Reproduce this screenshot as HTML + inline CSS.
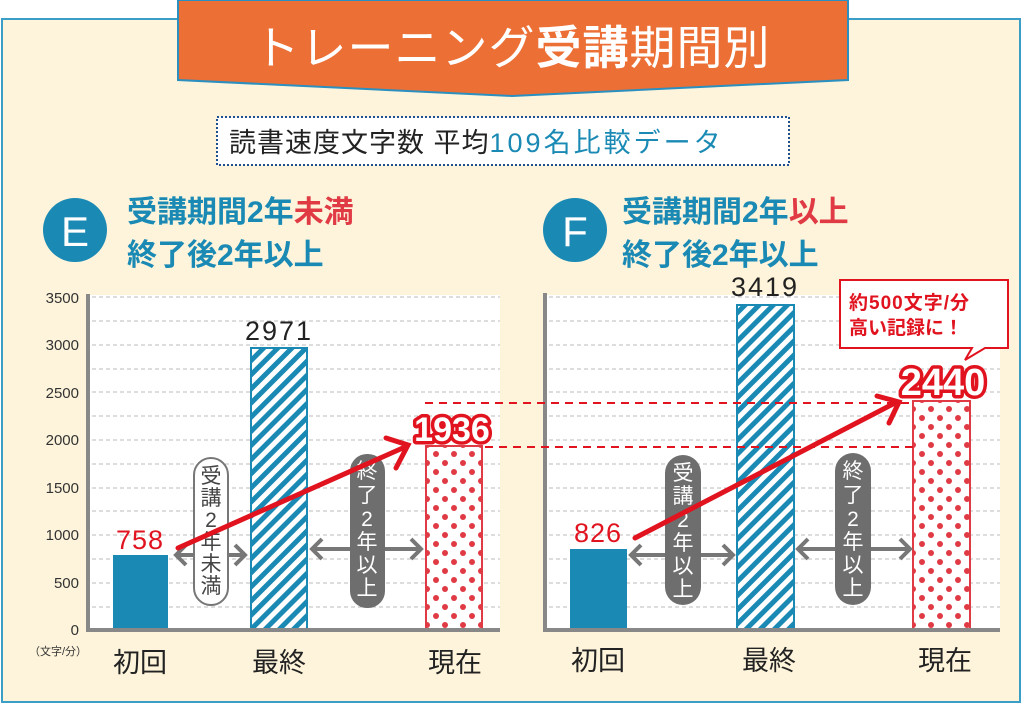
<!DOCTYPE html>
<html><head><meta charset="utf-8"><style>
html,body{margin:0;padding:0;background:#fff;}
svg{display:block;font-family:"Liberation Sans","Noto Sans CJK JP",sans-serif;}
</style></head><body>
<svg width="1022" height="704" viewBox="0 0 1022 704" xmlns="http://www.w3.org/2000/svg">
<defs>
<pattern id="st" width="10" height="10" patternUnits="userSpaceOnUse" patternTransform="rotate(45)">
<rect width="10" height="10" fill="#fff"/><rect width="5" height="10" fill="#1a8ab5"/>
</pattern>
<pattern id="dt" width="18" height="18" patternUnits="userSpaceOnUse">
<rect width="18" height="18" fill="#fff"/>
<circle cx="4" cy="4" r="3" fill="#e03a45"/><circle cx="13" cy="13" r="3" fill="#e03a45"/>
</pattern>
</defs>
<rect x="0" y="0" width="1022" height="704" fill="#fff"/>
<rect x="2" y="19" width="1018" height="683" fill="#fdf4db" stroke="#3a9ec7" stroke-width="2"/>
<polygon points="178,0 848,0 848,80 512,96 178,80" fill="#ec6f35" stroke="#2b8fbf" stroke-width="2"/>
<text x="512" y="64" font-size="46" fill="#fff" text-anchor="middle" letter-spacing="1">トレーニング<tspan font-weight="bold">受講</tspan>期間別</text>
<rect x="217" y="117" width="572" height="48" fill="#fff" stroke="#1f4f93" stroke-width="2" stroke-dasharray="2,2"/>
<text x="229" y="152" font-size="27" fill="#222" letter-spacing="1">読書速度文字数 平均<tspan fill="#1a8ab5" letter-spacing="3">109名比較データ</tspan></text>
<circle cx="75" cy="230" r="32" fill="#1a8ab5"/>
<text x="75" y="246" font-size="42" fill="#fff" text-anchor="middle">E</text>
<text x="127" y="222" font-size="30" font-weight="bold" fill="#1a8ab5">受講期間2年<tspan fill="#e03a45">未満</tspan></text>
<text x="127" y="265" font-size="30" font-weight="bold" fill="#1a8ab5">終了後2年以上</text>
<circle cx="575" cy="230" r="32" fill="#1a8ab5"/>
<text x="575" y="246" font-size="42" fill="#fff" text-anchor="middle">F</text>
<text x="622" y="222" font-size="30" font-weight="bold" fill="#1a8ab5">受講期間2年<tspan fill="#e03a45">以上</tspan></text>
<text x="622" y="265" font-size="30" font-weight="bold" fill="#1a8ab5">終了後2年以上</text>

<rect x="90" y="295" width="410" height="335" fill="#fff"/>
<g stroke="#bbb" stroke-width="1" stroke-dasharray="4,3">
<line x1="92" x2="500" y1="297" y2="297"/><line x1="92" x2="500" y1="321" y2="321"/><line x1="92" x2="500" y1="345" y2="345"/><line x1="92" x2="500" y1="369" y2="369"/><line x1="92" x2="500" y1="392" y2="392"/><line x1="92" x2="500" y1="416" y2="416"/><line x1="92" x2="500" y1="440" y2="440"/><line x1="92" x2="500" y1="464" y2="464"/><line x1="92" x2="500" y1="488" y2="488"/><line x1="92" x2="500" y1="511" y2="511"/><line x1="92" x2="500" y1="535" y2="535"/><line x1="92" x2="500" y1="559" y2="559"/><line x1="92" x2="500" y1="583" y2="583"/><line x1="92" x2="500" y1="607" y2="607"/>
</g>
<g font-size="15" fill="#333" text-anchor="end">
<text x="79" y="303">3500</text><text x="79" y="350">3000</text><text x="79" y="398">2500</text><text x="79" y="445">2000</text><text x="79" y="493">1500</text><text x="79" y="540">1000</text><text x="79" y="588">500</text><text x="79" y="635">0</text>
</g>
<text x="58" y="655" font-size="11" fill="#333" text-anchor="middle">（文字/分）</text>
<rect x="113" y="555" width="55" height="75" fill="#1a8ab5"/>
<rect x="251" y="348" width="56" height="282" fill="url(#st)" stroke="#1a8ab5" stroke-width="2"/>
<rect x="426" y="446" width="56" height="184" fill="url(#dt)" stroke="#e03a45" stroke-width="2"/>
<line x1="88" y1="294" x2="88" y2="632" stroke="#888" stroke-width="4"/>
<line x1="86" y1="630" x2="500" y2="630" stroke="#888" stroke-width="4"/>
<text x="140" y="549" font-size="27" fill="#e0131f" text-anchor="middle" letter-spacing="1">758</text>
<text x="279" y="340" font-size="27" fill="#222" text-anchor="middle" letter-spacing="2">2971</text>
<g font-size="27" fill="#222" text-anchor="middle"><text x="140" y="672">初回</text><text x="279" y="672">最終</text><text x="455" y="672">現在</text></g>

<rect x="547" y="295" width="453" height="335" fill="#fff"/>
<g stroke="#bbb" stroke-width="1" stroke-dasharray="4,3">
<line x1="549" x2="1000" y1="297" y2="297"/><line x1="549" x2="1000" y1="321" y2="321"/><line x1="549" x2="1000" y1="345" y2="345"/><line x1="549" x2="1000" y1="369" y2="369"/><line x1="549" x2="1000" y1="392" y2="392"/><line x1="549" x2="1000" y1="416" y2="416"/><line x1="549" x2="1000" y1="440" y2="440"/><line x1="549" x2="1000" y1="464" y2="464"/><line x1="549" x2="1000" y1="488" y2="488"/><line x1="549" x2="1000" y1="511" y2="511"/><line x1="549" x2="1000" y1="535" y2="535"/><line x1="549" x2="1000" y1="559" y2="559"/><line x1="549" x2="1000" y1="583" y2="583"/><line x1="549" x2="1000" y1="607" y2="607"/>
</g>
<rect x="570" y="549" width="57" height="81" fill="#1a8ab5"/>
<rect x="737" y="305" width="57" height="325" fill="url(#st)" stroke="#1a8ab5" stroke-width="2"/>
<rect x="913" y="401" width="57" height="229" fill="url(#dt)" stroke="#e03a45" stroke-width="2"/>
<line x1="545" y1="293" x2="545" y2="632" stroke="#888" stroke-width="4"/>
<line x1="543" y1="630" x2="1000" y2="630" stroke="#888" stroke-width="4"/>
<text x="598" y="542" font-size="27" fill="#e0131f" text-anchor="middle" letter-spacing="1">826</text>
<text x="765" y="296" font-size="27" fill="#222" text-anchor="middle" letter-spacing="2">3419</text>
<g font-size="27" fill="#222" text-anchor="middle"><text x="598" y="670">初回</text><text x="769" y="670">最終</text><text x="945" y="670">現在</text></g>

<line x1="425" y1="403" x2="915" y2="403" stroke="#e0131f" stroke-width="2" stroke-dasharray="8,6"/>
<line x1="485" y1="447" x2="915" y2="447" stroke="#e0131f" stroke-width="2" stroke-dasharray="8,6"/>

<g stroke="#777" stroke-width="4" fill="none">
<line x1="176" y1="555" x2="245" y2="555"/><polyline points="186,545 176,555 186,565"/><polyline points="235,545 245,555 235,565"/>
<line x1="312" y1="549" x2="421" y2="549"/><polyline points="322,539 312,549 322,559"/><polyline points="411,539 421,549 411,559"/>
<line x1="631" y1="555" x2="733" y2="555"/><polyline points="641,545 631,555 641,565"/><polyline points="723,545 733,555 723,565"/>
<line x1="798" y1="549" x2="910" y2="549"/><polyline points="808,539 798,549 808,559"/><polyline points="900,539 910,549 900,559"/>
</g>
<rect x="194" y="458" width="34" height="147" rx="17" fill="#fff" stroke="#777" stroke-width="2"/>
<g font-size="21" fill="#444" text-anchor="middle"><text x="211" y="483">受</text><text x="211" y="505">講</text><text x="211" y="527">2</text><text x="211" y="549">年</text><text x="211" y="571">未</text><text x="211" y="593">満</text></g>
<rect x="350" y="454" width="35" height="154" rx="17" fill="#6e6e6e"/>
<g font-size="21" fill="#fff" text-anchor="middle"><text x="367" y="478">終</text><text x="367" y="502">了</text><text x="367" y="526">2</text><text x="367" y="549">年</text><text x="367" y="572">以</text><text x="367" y="595">上</text></g>
<rect x="665" y="455" width="36" height="150" rx="18" fill="#6e6e6e"/>
<g font-size="21" fill="#fff" text-anchor="middle"><text x="683" y="480">受</text><text x="683" y="503">講</text><text x="683" y="527">2</text><text x="683" y="550">年</text><text x="683" y="573">以</text><text x="683" y="596">上</text></g>
<rect x="835" y="453" width="36" height="152" rx="18" fill="#6e6e6e"/>
<g font-size="21" fill="#fff" text-anchor="middle"><text x="853" y="478">終</text><text x="853" y="502">了</text><text x="853" y="526">2</text><text x="853" y="549">年</text><text x="853" y="572">以</text><text x="853" y="595">上</text></g>

<g stroke="#e0131f" stroke-width="5" fill="none" stroke-linecap="round">
<line x1="178" y1="548" x2="405" y2="447"/><polyline points="386,438 408,445 396,468"/>
<line x1="635" y1="538" x2="895" y2="403"/><polyline points="877,396 899,402 889,423"/>
</g>
<text x="452" y="441" font-size="34" font-weight="bold" fill="#fff" stroke="#e0131f" stroke-width="7" paint-order="stroke" stroke-linejoin="round" text-anchor="middle">1936</text>
<text x="943" y="395" font-size="38" font-weight="bold" fill="#fff" stroke="#e0131f" stroke-width="7" paint-order="stroke" stroke-linejoin="round" text-anchor="middle">2440</text>
<polygon points="840,280 1008,280 1008,348 985,348 965,360 972,348 840,348" fill="#fff" stroke="#e0131f" stroke-width="2"/>
<text x="849" y="309" font-size="19" font-weight="bold" fill="#e0131f" letter-spacing="1">約500文字/分</text>
<text x="849" y="334" font-size="19" font-weight="bold" fill="#e0131f">高い記録に！</text>
</svg>
</body></html>
